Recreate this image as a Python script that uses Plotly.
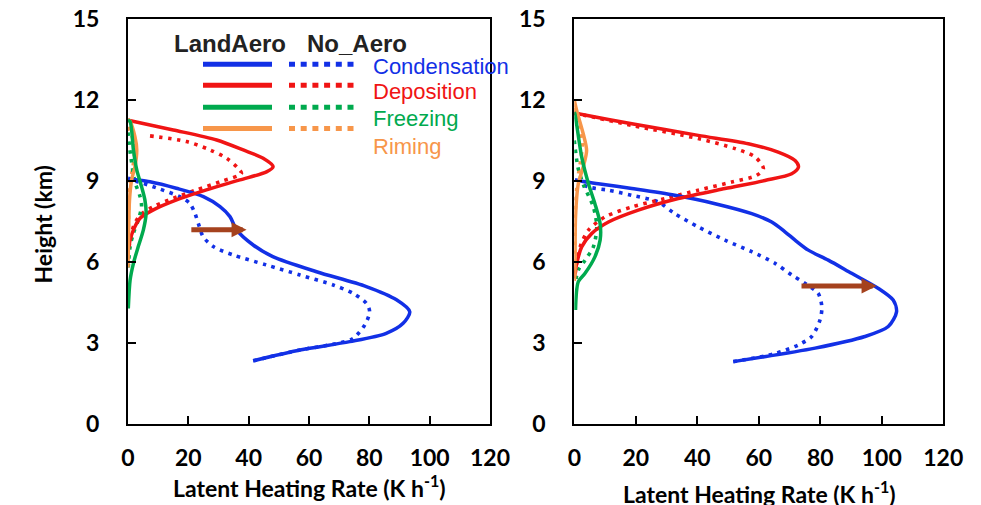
import plotly.graph_objects as go

# ---------------- data: latent heating profiles (K h-1) vs height (km) ----------------
# Left panel
L_cond_land_v = [41.5, 57, 73.5, 85.6, 91.2, 93.4, 89, 79, 62.5, 48, 41.5, 36, 33.8, 30.5, 25, 16, 7.3, 1.2, 0]
L_cond_land_h = [2.34, 2.74, 3.05, 3.36, 3.73, 4.16, 4.6, 5.09, 5.64, 6.2, 6.63, 7.19, 7.68, 8.05, 8.42, 8.73, 8.97, 9.07, 9.1]
L_cond_noaero_v = [41.5, 57, 70, 74.6, 78.5, 80.1, 79, 74.6, 68, 57, 45.9, 34.9, 28.3, 24.9, 23.3, 22.2, 20.5, 17.2, 10.6, 5.1, 1.2]
L_cond_noaero_h = [2.34, 2.74, 3.0, 3.17, 3.67, 4.16, 4.47, 4.84, 5.15, 5.52, 5.89, 6.26, 6.57, 6.94, 7.43, 7.8, 8.17, 8.42, 8.7, 8.91, 9.03]
L_dep_land_v = [0, 1.2, 15, 29.4, 38.2, 44.8, 48.1, 45.9, 37.1, 26, 16.1, 8.4, 4, 1.8, 0.7, 0]
L_dep_land_h = [11.25, 11.22, 10.89, 10.52, 10.15, 9.84, 9.53, 9.34, 9.04, 8.67, 8.3, 7.93, 7.62, 7.19, 6.81, 6.4]
L_dep_noaero_v = [7.3, 19.4, 27.2, 32.7, 36.5, 37.6, 30.5, 22.7, 15, 8.4, 4, 1.8, 0.7, 0.2]
L_dep_noaero_h = [10.67, 10.46, 10.15, 9.84, 9.47, 9.28, 8.97, 8.67, 8.36, 8.05, 7.74, 7.31, 6.81, 6.4]
L_frz_land_v = [0, 0.7, 1.8, 2.9, 4.5, 5.6, 6, 5.1, 3.4, 1.8, 0.7, 0.1]
L_frz_land_h = [11.25, 11.2, 10.15, 9.41, 8.79, 8.3, 7.8, 7.19, 6.57, 5.95, 5.33, 4.28]
L_frz_noaero_v = [0, 0.8, 2.3, 4, 4.5, 3.4, 1.8, 0.7, 0.1]
L_frz_noaero_h = [10.8, 10.0, 8.97, 8.42, 8.05, 7.56, 7.07, 6.57, 5.8]
L_rim_land_v = [0, 0.7, 2.3, 2.9, 2.3, 1.2, 0.5, 0.2, 0]
L_rim_land_h = [11.3, 11.2, 10.64, 10.15, 9.53, 9.04, 8.3, 7.07, 5.8]
L_rim_noaero_v = [0, 1.5, 2.2, 1.6, 0.8, 0.3, 0.1, 0]
L_rim_noaero_h = [11.0, 10.6, 10.1, 9.5, 9.0, 8.2, 7.0, 6.0]

# Right panel
R_cond_land_v = [51.7, 78.3, 94.5, 102.1, 104.8, 103.7, 98.9, 90.2, 82.6, 76.1, 71.8, 68.5, 64.2, 57.7, 45.8, 32.7, 18.7, 7.8, 2.4, 0.2]
R_cond_land_h = [2.31, 2.81, 3.24, 3.61, 4.16, 4.59, 5.02, 5.58, 6.07, 6.44, 6.81, 7.12, 7.48, 7.79, 8.16, 8.47, 8.72, 8.9, 8.99, 9.05]
R_cond_noaero_v = [51.7, 65, 72.9, 77.2, 79.9, 80.5, 79.3, 75, 70.7, 65.3, 57.7, 49, 40.3, 32.7, 27.3, 18.7, 11.1, 5.7, 1.3]
R_cond_noaero_h = [2.31, 2.6, 2.93, 3.24, 3.85, 4.34, 4.84, 5.21, 5.52, 5.95, 6.38, 6.81, 7.3, 7.79, 8.22, 8.47, 8.66, 8.75, 8.9]
R_dep_land_v = [0, 1.3, 18.7, 40.3, 56.6, 66.3, 71.8, 72.9, 70.7, 62, 49, 33.8, 20.8, 11.1, 5.7, 2.4, 0.8, 0]
R_dep_land_h = [11.52, 11.49, 11.12, 10.69, 10.38, 10.07, 9.76, 9.52, 9.27, 9.02, 8.72, 8.35, 7.92, 7.48, 7.06, 6.56, 5.95, 5.4]
R_dep_noaero_v = [0, 3.5, 18.7, 40.3, 52.3, 58.8, 61.5, 59.3, 51.2, 40.3, 29.5, 18.7, 10, 4.6, 1.9, 0.8, 0.2]
R_dep_noaero_h = [11.5, 11.43, 11.06, 10.57, 10.2, 9.89, 9.46, 9.21, 8.96, 8.66, 8.35, 8.04, 7.67, 7.18, 6.56, 5.95, 5.5]
R_frz_land_v = [0, 0.2, 2.4, 4.6, 6.7, 8.4, 8.4, 6.7, 3.5, 1.3, 0.4]
R_frz_land_h = [11.55, 11.49, 9.89, 8.9, 8.16, 7.42, 6.81, 6.19, 5.58, 5.27, 4.22]
R_frz_noaero_v = [0, 1.2, 3, 6.2, 7.3, 6.2, 3.5, 1.3, 0.3]
R_frz_noaero_h = [10.5, 9.5, 8.85, 8.04, 7.3, 6.56, 6.07, 5.7, 5.2]
R_rim_land_v = [0, 0.8, 2.9, 4, 2.9, 1.3, 0.4, 0.2, 0]
R_rim_land_h = [12.0, 11.6, 10.75, 10.13, 9.52, 8.9, 7.67, 5.58, 5.3]
R_rim_noaero_v = [0, 1.5, 2.6, 2, 1, 0.3, 0.1]
R_rim_noaero_h = [11.7, 11.0, 10.4, 9.7, 9.0, 7.8, 6.0]

# Arrows marking the LandAero increase in condensational heating
L_arrow_h, L_arrow_from, L_arrow_to = 7.19, 20.5, 39.3
R_arrow_h, R_arrow_from, R_arrow_to = 5.11, 73.4, 98.3

x_ticks = [0, 20, 40, 60, 80, 100, 120]
y_ticks = [0, 3, 6, 9, 12, 15]
processes = ["Condensation", "Deposition", "Freezing", "Riming"]
cases = ["LandAero", "No_Aero"]

# ---------------- styling ----------------
BLUE, RED, GREEN, ORANGE = "#1230E6", "#F01414", "#00AA4E", "#F7964A"
ARROW = "#A5421E"
colors = [BLUE, RED, GREEN, ORANGE]
DOT = "3.5px,5.5px"
W, H = 981, 505


def fx(p):
    return p / W


def fy(p):
    return 1 - p / H


fig = go.Figure()

panels = [
    ("x", "y", [
        (L_cond_noaero_v, L_cond_noaero_h, BLUE, DOT),
        (L_dep_noaero_v, L_dep_noaero_h, RED, DOT),
        (L_rim_noaero_v, L_rim_noaero_h, ORANGE, DOT),
        (L_frz_noaero_v, L_frz_noaero_h, GREEN, DOT),
        (L_cond_land_v, L_cond_land_h, BLUE, "solid"),
        (L_dep_land_v, L_dep_land_h, RED, "solid"),
        (L_rim_land_v, L_rim_land_h, ORANGE, "solid"),
        (L_frz_land_v, L_frz_land_h, GREEN, "solid"),
    ]),
    ("x2", "y2", [
        (R_cond_noaero_v, R_cond_noaero_h, BLUE, DOT),
        (R_dep_noaero_v, R_dep_noaero_h, RED, DOT),
        (R_rim_noaero_v, R_rim_noaero_h, ORANGE, DOT),
        (R_frz_noaero_v, R_frz_noaero_h, GREEN, DOT),
        (R_cond_land_v, R_cond_land_h, BLUE, "solid"),
        (R_dep_land_v, R_dep_land_h, RED, "solid"),
        (R_rim_land_v, R_rim_land_h, ORANGE, "solid"),
        (R_frz_land_v, R_frz_land_h, GREEN, "solid"),
    ]),
]

for xa, ya, series in panels:
    for v, h, c, dash in series:
        fig.add_trace(go.Scatter(
            x=v, y=h, xaxis=xa, yaxis=ya, mode="lines",
            line=dict(color=c, width=3.5 if dash == "solid" else 3.6, dash=dash,
                      shape="spline", smoothing=0.8),
            showlegend=False, hoverinfo="skip",
        ))

tick_font = dict(family="Lato", size=23, color="black", weight=700)
axis_common = dict(
    showline=True, linecolor="black", linewidth=2, mirror=True,
    ticks="inside", ticklen=8, tickwidth=2, tickcolor="black",
    showgrid=False, zeroline=False, tickfont=tick_font, fixedrange=True,
    automargin=False,
)

y_dom = [fy(424), fy(19)]
fig.update_layout(
    width=W, height=H,
    margin=dict(l=0, r=0, t=0, b=0, autoexpand=False),
    paper_bgcolor="white", plot_bgcolor="white",
    xaxis=dict(domain=[fx(128), fx(490)], range=[0, 120], tickvals=x_ticks,
               anchor="y", ticklabelstandoff=12, **axis_common),
    yaxis=dict(domain=y_dom, range=[0, 15], tickvals=y_ticks,
               anchor="x", ticklabelstandoff=22, **axis_common),
    xaxis2=dict(domain=[fx(574.3), fx(943.3)], range=[0, 120], tickvals=x_ticks,
                anchor="y2", ticklabelstandoff=12, **axis_common),
    yaxis2=dict(domain=y_dom, range=[0, 15], tickvals=y_ticks,
                anchor="x2", ticklabelstandoff=22, **axis_common),
)

title_font = dict(family="Lato", size=23, color="black", weight=700)
annotations = [
    dict(text="Height (km)", x=fx(42.5), y=fy(225), textangle=-90, font=title_font),
    dict(text="Latent Heating Rate (K h<sup>-1</sup>)", x=fx(309), y=fy(486), font=title_font),
    dict(text="Latent Heating Rate (K h<sup>-1</sup>)", x=fx(759), y=fy(492), font=title_font),
]
for a in annotations:
    a.update(xref="paper", yref="paper", showarrow=False, xanchor="center", yanchor="middle")

# arrows
for xa, ya, hh, x0, x1 in [("x", "y", L_arrow_h, L_arrow_from, L_arrow_to),
                           ("x2", "y2", R_arrow_h, R_arrow_from, R_arrow_to)]:
    annotations.append(dict(
        x=x1, y=hh, ax=x0, ay=hh, xref=xa, yref=ya, axref=xa, ayref=ya,
        showarrow=True, arrowhead=2, arrowsize=0.6, arrowwidth=5,
        arrowcolor=ARROW, standoff=0, text="",
    ))

# legend: column headers, line samples and process labels
head_font = dict(family="Liberation Sans", size=24, color="#222222", weight=700)
annotations.append(dict(text=cases[0], x=fx(172), y=fy(44), xref="paper", yref="paper",
                        showarrow=False, xanchor="left", yanchor="middle", font=head_font))
annotations.append(dict(text=cases[1], x=fx(305), y=fy(44), xref="paper", yref="paper",
                        showarrow=False, xanchor="left", yanchor="middle", font=head_font))

row_y = [64.2, 85.2, 107.3, 128.5]
label_y = [66, 92, 118.5, 146]
shapes = []
for name, c, ry, ly in zip(processes, colors, row_y, label_y):
    shapes.append(dict(type="line", xref="paper", yref="paper",
                       x0=fx(203), x1=fx(272), y0=fy(ry), y1=fy(ry),
                       line=dict(color=c, width=5)))
    shapes.append(dict(type="line", xref="paper", yref="paper",
                       x0=fx(289), x1=fx(358), y0=fy(ry), y1=fy(ry),
                       line=dict(color=c, width=5, dash="6px,5.7px")))
    annotations.append(dict(text=name, x=fx(371), y=fy(ly), xref="paper", yref="paper",
                            showarrow=False, xanchor="left", yanchor="middle",
                            font=dict(family="Liberation Sans", size=22, color=c)))

fig.update_layout(annotations=annotations, shapes=shapes)

fig.write_html("out.html")
